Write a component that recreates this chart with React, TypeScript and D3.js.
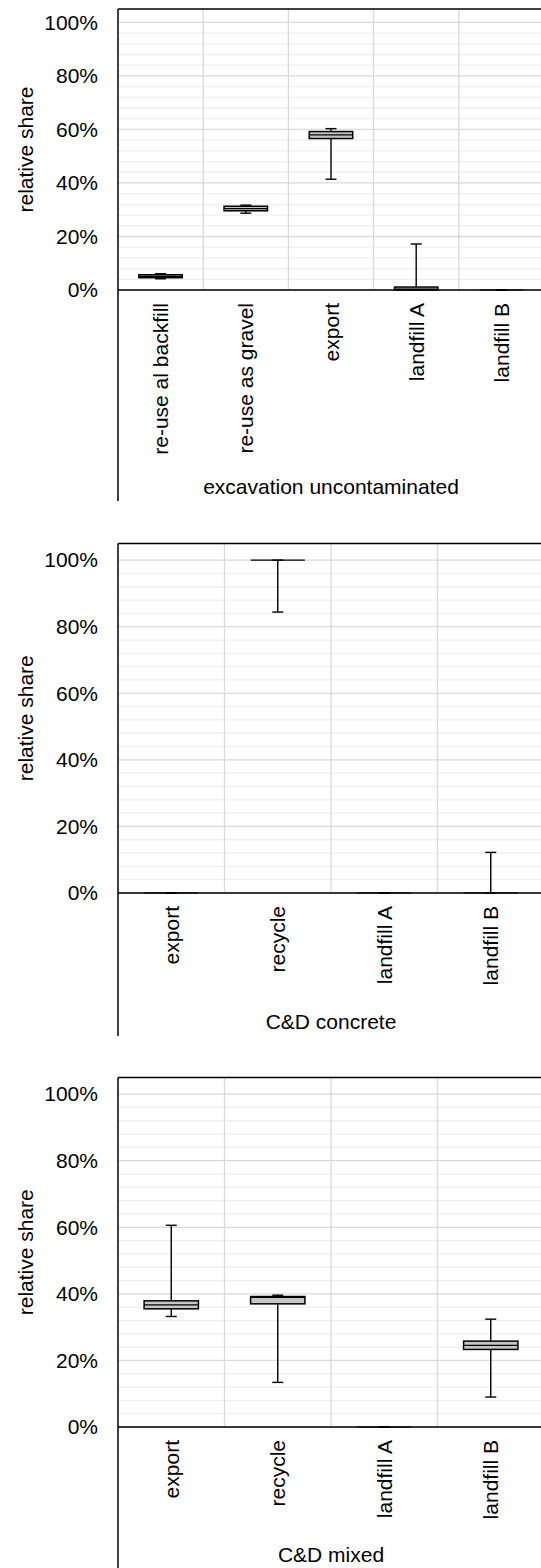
import React from 'react';
import * as d3 from 'd3';

// panel 1: excavation uncontaminated
const cats1 = ['re-use al backfill', 're-use as gravel', 'export', 'landfill A', 'landfill B'];
const min1 = [4.2, 28.7, 41.4, 0, 0];
const q1s1 = [4.6, 29.6, 56.6, 0, 0];
const med1 = [5.1, 30.4, 58.0, 0.3, 0];
const q3s1 = [5.7, 31.3, 59.2, 1.1, 0];
const max1 = [6.1, 31.7, 60.3, 17.2, 0];

// panel 2: C&D concrete
const cats2 = ['export', 'recycle', 'landfill A', 'landfill B'];
const min2 = [0, 84.4, 0, 0];
const q1s2 = [0, 100, 0, 0];
const med2 = [0, 100, 0, 0];
const q3s2 = [0, 100, 0, 0];
const max2 = [0, 100, 0, 12.2];

// panel 3: C&D mixed
const cats3 = ['export', 'recycle', 'landfill A', 'landfill B'];
const min3 = [33.2, 13.4, 0, 9.0];
const q1s3 = [35.5, 37.0, 0, 23.3];
const med3 = [36.7, 38.9, 0, 24.5];
const q3s3 = [37.9, 39.2, 0, 25.8];
const max3 = [60.6, 39.6, 0, 32.4];

const yTicks = [0, 20, 40, 60, 80, 100];
const yMax = 105;

const FONT = '"Liberation Sans", Arial, sans-serif';
const FS = 21;

type Panel = {
  title: string;
  cats: string[];
  mins: number[];
  q1s: number[];
  meds: number[];
  q3s: number[];
  maxs: number[];
  top: number;
  bottom: number;
  titleY: number;
  lineEnd: number;
};

const panels: Panel[] = [
  { title: 'excavation uncontaminated', cats: cats1, mins: min1, q1s: q1s1, meds: med1, q3s: q3s1, maxs: max1, top: 9, bottom: 290, titleY: 494, lineEnd: 501 },
  { title: 'C&D concrete', cats: cats2, mins: min2, q1s: q1s2, meds: med2, q3s: q3s2, maxs: max2, top: 543.5, bottom: 893, titleY: 1029, lineEnd: 1036 },
  { title: 'C&D mixed', cats: cats3, mins: min3, q1s: q1s3, meds: med3, q3s: q3s3, maxs: max3, top: 1077.5, bottom: 1427, titleY: 1562, lineEnd: 1570 },
];

const left = 118;
const right = 544;

const BoxPanel = ({ p }: { p: Panel }) => {
  const x = d3.scaleBand().domain(p.cats).range([left, right]).padding(0);
  const y = d3.scaleLinear().domain([0, yMax]).range([p.bottom, p.top]);
  const minor = d3.range(4, 100, 4).filter((v) => v % 20 !== 0);
  const bw = x.bandwidth() * 0.51;
  const cap = 11;

  return (
    <g>
      {minor.map((v) => (
        <line key={'m' + v} x1={left} x2={right} y1={y(v)} y2={y(v)} stroke="#efefef" strokeWidth={1.3} />
      ))}
      {yTicks.map((v) => (
        <line key={'g' + v} x1={left} x2={right} y1={y(v)} y2={y(v)} stroke="#d9d9d9" strokeWidth={1.3} />
      ))}
      {p.cats.slice(1).map((c) => (
        <line key={'v' + c} x1={x(c)!} x2={x(c)!} y1={p.top} y2={p.bottom} stroke="#d9d9d9" strokeWidth={1.3} />
      ))}
      {/* frame */}
      <line x1={left} x2={right} y1={p.top} y2={p.top} stroke="#000" strokeWidth={1.5} />
      <line x1={left} x2={left} y1={p.top} y2={p.lineEnd} stroke="#000" strokeWidth={1.5} />

      {p.cats.map((c, i) => {
        const cx = x(c)! + x.bandwidth() / 2;
        const flat = y(p.q1s[i]) - y(p.q3s[i]) < 1;
        return (
          <g key={'b' + c}>
            <line x1={cx} x2={cx} y1={y(p.maxs[i])} y2={y(p.q3s[i])} stroke="#000" strokeWidth={1.4} />
            <line x1={cx} x2={cx} y1={y(p.q1s[i])} y2={y(p.mins[i])} stroke="#000" strokeWidth={1.4} />
            <line x1={cx - cap / 2} x2={cx + cap / 2} y1={y(p.maxs[i])} y2={y(p.maxs[i])} stroke="#000" strokeWidth={1.4} />
            <line x1={cx - cap / 2} x2={cx + cap / 2} y1={y(p.mins[i])} y2={y(p.mins[i])} stroke="#000" strokeWidth={1.4} />
            <rect
              x={cx - bw / 2}
              y={y(p.q3s[i])}
              width={bw}
              height={y(p.q1s[i]) - y(p.q3s[i])}
              fill="#c6c6c6"
              stroke="#000"
              strokeWidth={flat ? 2.4 : 1.5}
            />
            <line x1={cx - bw / 2} x2={cx + bw / 2} y1={y(p.meds[i])} y2={y(p.meds[i])} stroke="#000" strokeWidth={1.2} />
          </g>
        );
      })}

      <line x1={left} x2={right} y1={p.bottom} y2={p.bottom} stroke="#000" strokeWidth={1.5} />

      {yTicks.map((v) => (
        <text key={'t' + v} x={98} y={y(v)} dy="0.35em" textAnchor="end" fontSize={FS} fontFamily={FONT} fill="#000">
          {v}%
        </text>
      ))}
      <text
        transform={`translate(26,${(p.top + p.bottom) / 2}) rotate(-90)`}
        dy="0.35em"
        textAnchor="middle"
        fontSize={FS}
        fontFamily={FONT}
        fill="#000"
      >
        relative share
      </text>
      {p.cats.map((c) => (
        <text
          key={'l' + c}
          transform={`translate(${x(c)! + x.bandwidth() / 2},${p.bottom + 13}) rotate(-90)`}
          dy="0.36em"
          textAnchor="end"
          fontSize={FS}
          fontFamily={FONT}
          fill="#000"
        >
          {c}
        </text>
      ))}
      <text x={(left + right) / 2} y={p.titleY} textAnchor="middle" fontSize={FS} fontFamily={FONT} fill="#000">
        {p.title}
      </text>
    </g>
  );
};

export default function App() {
  return (
    <svg width={541} height={1568} style={{ position: 'absolute', left: 0, top: 0, background: '#fff' }}>
      <rect width={541} height={1568} fill="#fff" />
      {panels.map((p) => (
        <BoxPanel key={p.title} p={p} />
      ))}
    </svg>
  );
}
